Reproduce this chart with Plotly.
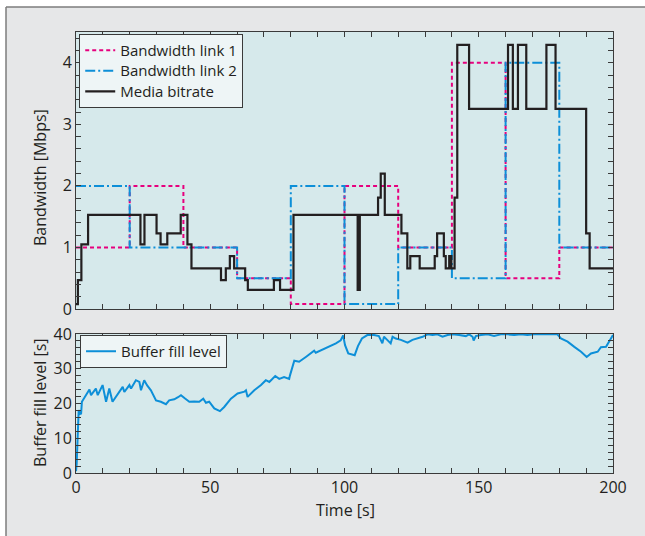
import plotly.graph_objects as go

# ---------------- data ----------------
link_t = [0, 20, 40, 60, 80, 100, 120, 140, 160, 180, 200]
link1_bw = [1, 2, 1, 0.5, 0.08, 2, 1, 4, 0.5, 1, 1]
link2_bw = [2, 1, 1, 0.5, 2, 0.08, 1, 0.5, 4, 1, 1]

media_t = [0, 0.7, 2.0, 4.5, 24, 25.5, 30, 31.5, 34, 39, 41.5, 43, 54, 55.8, 57.3, 58.9,
           63, 64, 73.7, 76, 81, 104.9, 105.7, 112.5, 113.5, 115, 121.2, 123.4, 124.5,
           128, 133.6, 134.5, 137, 137.7, 139, 139.8, 141, 142, 146.4, 160.9, 162.7,
           164.6, 167.7, 175.2, 178.6, 190, 191.3, 200]
media_rate = [0.08, 0.47, 1.05, 1.53, 1.05, 1.53, 1.23, 1.05, 1.23, 1.53, 1.05, 0.66, 0.47,
              0.66, 0.86, 0.66, 0.47, 0.31, 0.47, 0.31, 1.53, 0.31, 1.53, 1.81, 2.2, 1.53,
              1.23, 0.66, 0.86, 0.66, 0.86, 1.23, 0.86, 0.66, 0.86, 0.66, 1.81, 4.29, 3.25,
              4.29, 3.25, 4.29, 3.25, 4.29, 3.25, 1.23, 0.66, 0.66]

buf_t = [0, 0.25, 0.6, 1.0, 1.5, 1.9, 2.2, 3.0, 4.0, 5.0, 5.6, 6.5, 7.4, 8.1, 9.0, 9.9,
         11.2, 12.4, 13.6, 14.5, 15.5, 16.5, 17.4, 18.0, 19.9, 20.5, 22.3, 23.6, 24.2,
         25.4, 26.5, 27.9, 29.0, 29.8, 31.6, 33.5, 34.7, 36.6, 38.0, 39.1, 40.5, 42.2,
         44.0, 45.9, 47.4, 48.4, 49.6, 51.5, 53.6, 55.2, 57.7, 60.2, 62.7, 63.3, 63.9,
         66.4, 68.9, 70.7, 72.0, 74.2, 75.7, 77.5, 79.4, 79.7, 81.3, 83.1, 85.6, 87.5,
         88.7, 89.3, 91.8, 94.3, 96.8, 98.6, 99.5, 100.2, 101.4, 103.8, 105.0, 106.5,
         108.5, 111.0, 112.8, 114.1, 114.7, 115.9, 117.2, 117.9, 119.1, 121.0, 123.5,
         125.3, 127.2, 129.1, 130.9, 132.8, 134.6, 136.5, 138.4, 140.2, 142.7, 145.2,
         146.4, 147.7, 148.1, 148.9, 150.8, 153.3, 155.7, 158.2, 160.7, 163.2, 165.7,
         168.1, 170.6, 175.6, 178.1, 179.3, 180.6, 183.1, 185.6, 188.1, 190.2, 191.8,
         194.3, 195.5, 197.4, 199.3, 200]
buf_level = [0.5, 2.7, 10.0, 18.1, 17.0, 17.1, 20.5, 21.5, 22.5, 24.0, 22.4, 23.5, 24.3,
             22.4, 23.8, 25.3, 20.5, 24.3, 20.5, 21.5, 22.4, 23.6, 24.8, 23.3, 25.3, 24.3,
             26.7, 26.2, 23.8, 26.7, 25.2, 23.8, 22.0, 20.9, 20.5, 19.8, 20.9, 21.2, 21.8,
             22.4, 21.5, 20.5, 20.6, 20.5, 21.4, 20.2, 20.5, 18.6, 17.8, 19.0, 21.4, 22.9,
             23.4, 23.8, 21.9, 23.8, 25.3, 26.7, 26.2, 27.9, 27.1, 27.6, 27.1, 28.1, 32.3,
             32.0, 33.4, 34.4, 35.2, 34.6, 35.5, 36.3, 37.3, 38.2, 39.6, 36.8, 34.4, 33.9,
             36.5, 38.7, 39.7, 39.7, 39.4, 37.3, 39.2, 38.3, 37.3, 39.2, 38.7, 38.3, 37.5,
             38.3, 38.7, 39.2, 39.9, 39.7, 39.9, 39.2, 39.7, 39.9, 39.7, 39.4, 39.9, 39.2,
             38.1, 39.4, 39.7, 39.9, 39.4, 39.9, 39.9, 39.7, 39.9, 39.7, 39.9, 39.9, 39.7,
             39.9, 38.7, 37.8, 36.3, 34.9, 33.4, 34.4, 34.9, 36.2, 36.3, 38.7, 39.7]

x_ticks = [0, 50, 100, 150, 200]
bw_ticks = [0, 1, 2, 3, 4]
buf_ticks = [0, 10, 20, 30, 40]

# ---------------- style ----------------
PINK = "#e6007e"
BLUE = "#0d8fd8"
BLACK = "#231f20"
PLOT_BG = "#d6e9eb"
PAPER_BG = "#e6e7e8"
AXIS = "#3a3a3a"
FONT = "Open Sans"


def legend_label(s):
    return '<span style="font-size:15px">' + s + '</span>'


fig = go.Figure()
fig.add_trace(go.Scatter(x=link_t, y=link1_bw, mode="lines", line_shape="hv",
                         name=legend_label("Bandwidth link 1"), xaxis="x2", yaxis="y2",
                         line=dict(color=PINK, width=2, dash="4px,3px")))
fig.add_trace(go.Scatter(x=link_t, y=link2_bw, mode="lines", line_shape="hv",
                         name=legend_label("Bandwidth link 2"), xaxis="x2", yaxis="y2",
                         line=dict(color=BLUE, width=2, dash="10px,3px,2px,3px")))
fig.add_trace(go.Scatter(x=media_t, y=media_rate, mode="lines", line_shape="hv",
                         name=legend_label("Media bitrate"), xaxis="x2", yaxis="y2",
                         line=dict(color=BLACK, width=2.2)))
fig.add_trace(go.Scatter(x=buf_t, y=buf_level, mode="lines",
                         name=legend_label("Buffer fill level"),
                         xaxis="x", yaxis="y", legend="legend2",
                         line=dict(color=BLUE, width=2)))

common_axis = dict(showline=True, linecolor=AXIS, linewidth=1, mirror="ticks",
                   ticks="inside", ticklen=5, tickcolor=AXIS, showgrid=False,
                   zeroline=False, tickfont=dict(family=FONT, size=16, color=BLACK))

fig.update_layout(
    width=645, height=536,
    margin=dict(l=76, r=32, t=32, b=63),
    paper_bgcolor=PAPER_BG, plot_bgcolor=PLOT_BG,
    font=dict(family=FONT, color=BLACK, size=15),
    xaxis=dict(domain=[0, 1], anchor="y", range=[0, 200], tickvals=x_ticks,
               minor=dict(dtick=10, ticks="inside", ticklen=5, tickcolor=AXIS),
               **common_axis),
    yaxis=dict(domain=[0, 0.3152], anchor="x", range=[0, 40], tickvals=buf_ticks,
               minor=dict(dtick=2, ticks="inside", ticklen=5, tickcolor=AXIS),
               **common_axis),
    xaxis2=dict(domain=[0, 1], anchor="y2", range=[0, 200], tickvals=x_ticks,
                showticklabels=False,
                minor=dict(dtick=10, ticks="inside", ticklen=5, tickcolor=AXIS),
                **common_axis),
    yaxis2=dict(domain=[0.3719, 1], anchor="x2", range=[0, 4.5], tickvals=bw_ticks,
                minor=dict(dtick=0.2, ticks="inside", ticklen=5, tickcolor=AXIS),
                **common_axis),
    legend=dict(x=0.006, y=0.9955, xanchor="left", yanchor="top",
                bgcolor="#eef5f6", bordercolor=AXIS, borderwidth=1,
                font=dict(family=FONT, size=13.5, color=BLACK), tracegroupgap=0,
                itemwidth=30),
    legend2=dict(x=0.0075, y=0.313, xanchor="left", yanchor="top",
                 bgcolor="#eef5f6", bordercolor=AXIS, borderwidth=1,
                 font=dict(family=FONT, size=13.5, color=BLACK), itemwidth=30),
    showlegend=True,
)

# axis titles as annotations
fig.add_annotation(text="Bandwidth [Mbps]", xref="paper", yref="paper",
                   x=(40 - 76) / 537, y=(473 - 178) / 441, textangle=-90,
                   showarrow=False, xanchor="center", yanchor="middle",
                   font=dict(family=FONT, size=16, color=BLACK))
fig.add_annotation(text="Buffer fill level [s]", xref="paper", yref="paper",
                   x=(40 - 76) / 537, y=(473 - 403) / 441, textangle=-90,
                   showarrow=False, xanchor="center", yanchor="middle",
                   font=dict(family=FONT, size=16, color=BLACK))
fig.add_annotation(text="Time [s]", xref="paper", yref="paper",
                   x=(345 - 76) / 537, y=(473 - 510) / 441,
                   showarrow=False, xanchor="center", yanchor="middle",
                   font=dict(family=FONT, size=16, color=BLACK))


# outer frame: white strips at top/left, gray border lines
def px_x(p):
    return (p - 76) / 537


def px_y(p):
    return (473 - p) / 441


fig.add_shape(type="rect", xref="paper", yref="paper", x0=px_x(-5), x1=px_x(6),
              y0=px_y(545), y1=px_y(-5), fillcolor="white", line_width=0, layer="above")
fig.add_shape(type="rect", xref="paper", yref="paper", x0=px_x(-5), x1=px_x(650),
              y0=px_y(7), y1=px_y(-5), fillcolor="white", line_width=0, layer="above")
fig.add_shape(type="line", xref="paper", yref="paper", x0=px_x(6), x1=px_x(6),
              y0=px_y(545), y1=px_y(7), line=dict(color="#7d7d7d", width=1.5), layer="above")
fig.add_shape(type="line", xref="paper", yref="paper", x0=px_x(6), x1=px_x(650),
              y0=px_y(7), y1=px_y(7), line=dict(color="#7d7d7d", width=1.5), layer="above")

fig.write_html("out.html", config={"displayModeBar": False},
               post_script="document.body.style.margin='0';")
